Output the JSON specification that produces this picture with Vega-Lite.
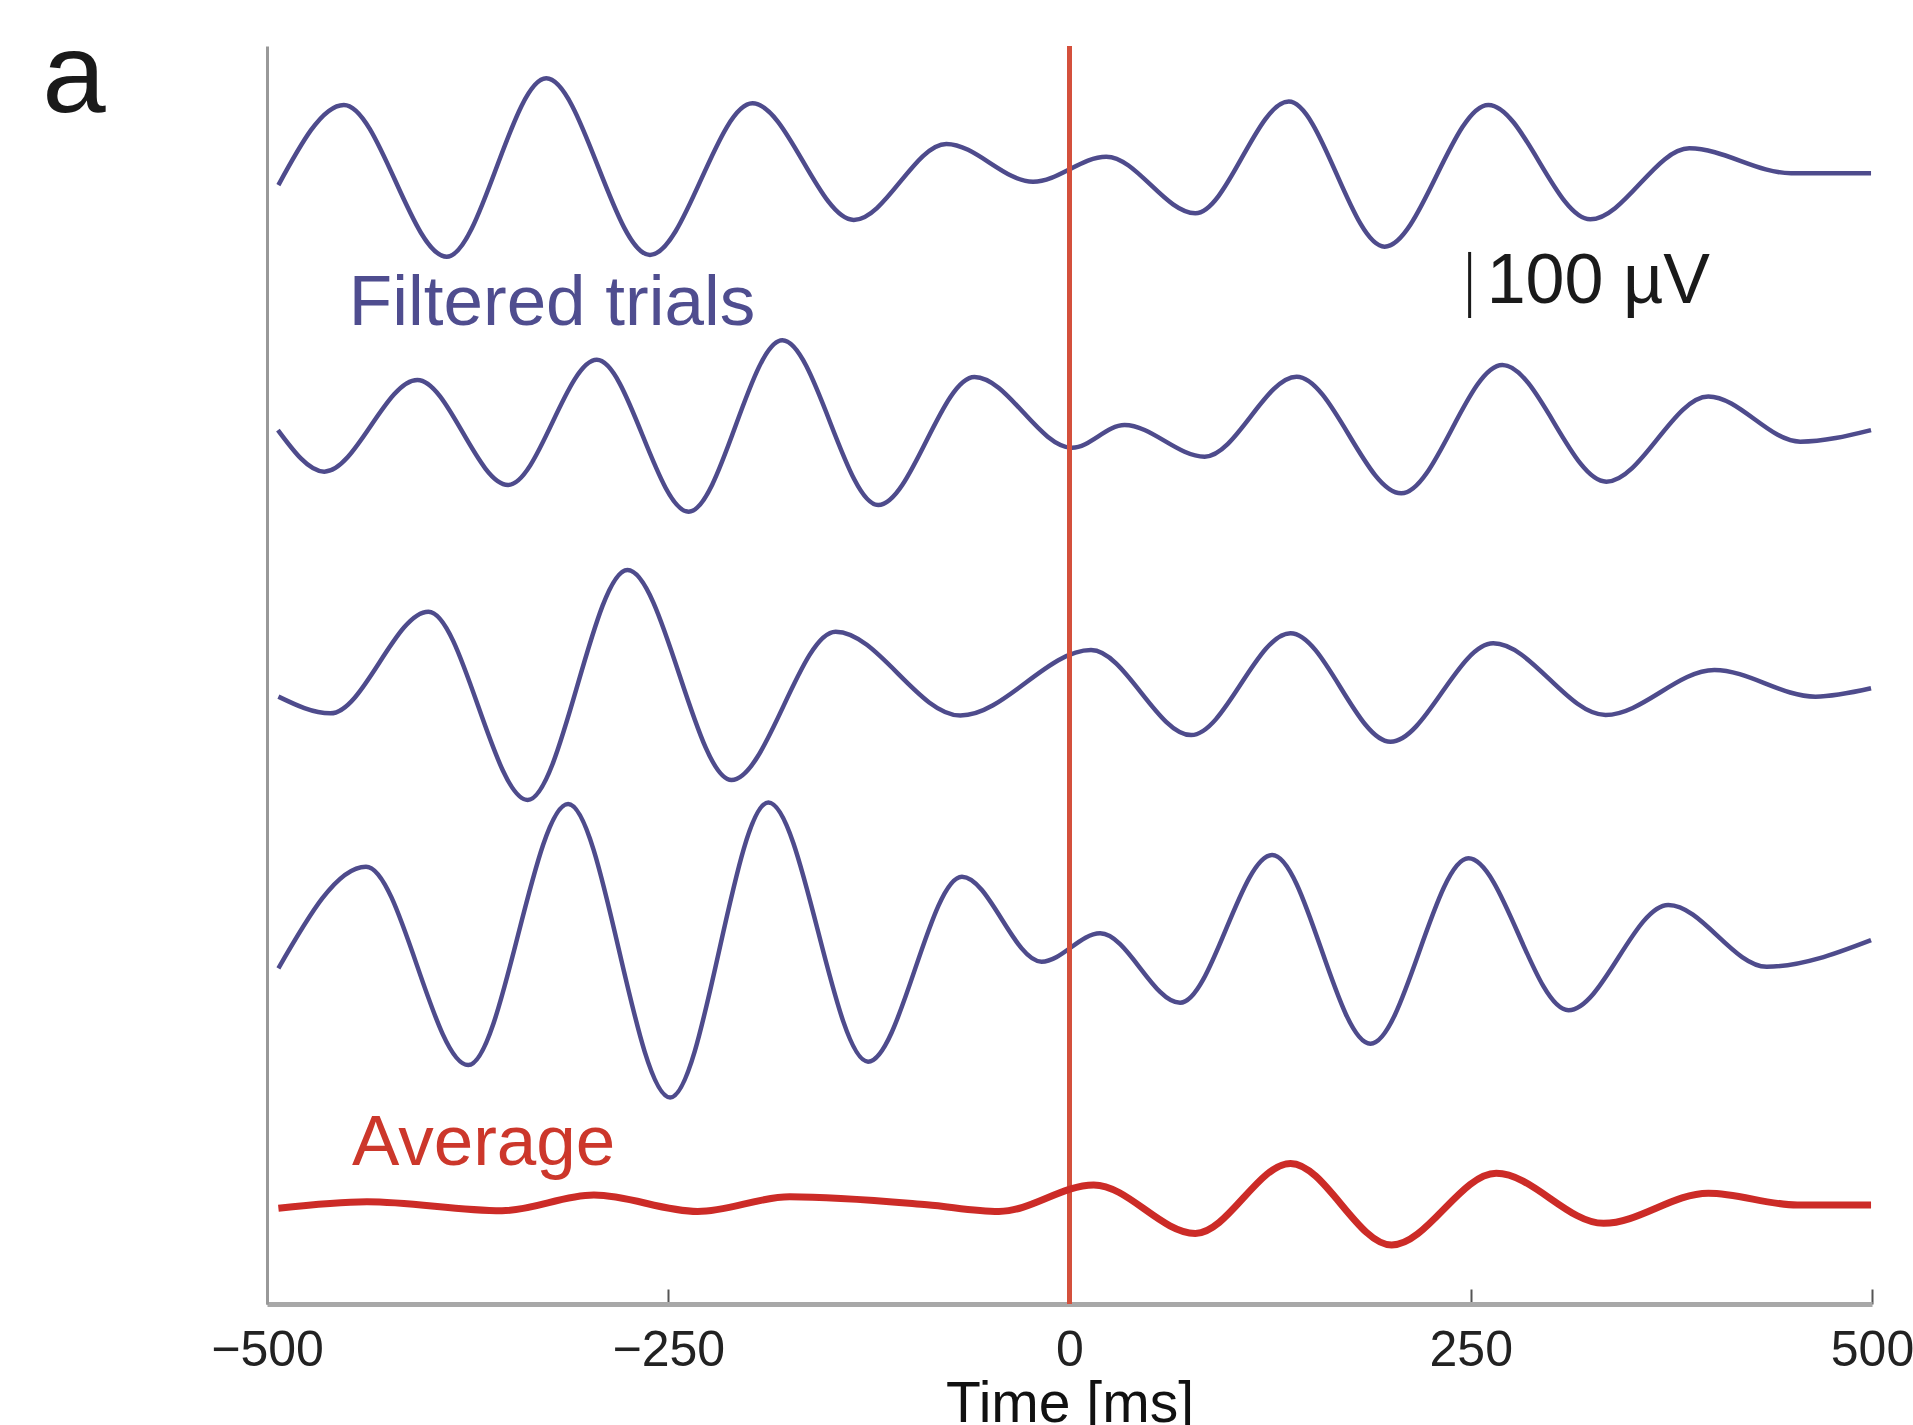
{
  "$schema": "https://vega.github.io/schema/vega-lite/v6.json",
  "width": 1605,
  "height": 1258,
  "autosize": {"type": "none"},
  "padding": {"left": 267, "top": 46, "right": 41, "bottom": 121},
  "background": "white",
  "config": {
    "view": {"stroke": null},
    "font": "Liberation Sans",
    "axisX": {
      "domainColor": "#a8a8a8", "domainWidth": 5, "domainCap": "butt",
      "tickColor": "#555555", "tickWidth": 2, "tickSize": -15,
      "labelFontSize": 50, "labelColor": "#222222", "labelFont": "Liberation Sans",
      "labelPadding": 36.5, "labelFlush": false, "labelOverlap": false,
      "grid": false,
      "titleFontSize": 57, "titleFontWeight": "normal",
      "titleColor": "#111111", "titleFont": "Liberation Sans",
      "titleBaseline": "alphabetic", "titleY": 117
    },
    "axisY": {
      "domainColor": "#999999", "domainWidth": 3, "ticks": false, "labels": false,
      "grid": false
    }
  },
  "datasets": {
    "traces": [
      {"series": "Trial 1", "t": -492.9, "v": 1748.3},
      {"series": "Trial 1", "t": -452.1, "v": 1873.6},
      {"series": "Trial 1", "t": -388.0, "v": 1636.4},
      {"series": "Trial 1", "t": -326.0, "v": 1915.1},
      {"series": "Trial 1", "t": -261.4, "v": 1639.1},
      {"series": "Trial 1", "t": -197.5, "v": 1876.0},
      {"series": "Trial 1", "t": -134.4, "v": 1693.8},
      {"series": "Trial 1", "t": -76.7, "v": 1812.6},
      {"series": "Trial 1", "t": -22.7, "v": 1753.5},
      {"series": "Trial 1", "t": 22.9, "v": 1792.7},
      {"series": "Trial 1", "t": 78.4, "v": 1704.3},
      {"series": "Trial 1", "t": 136.6, "v": 1878.7},
      {"series": "Trial 1", "t": 196.3, "v": 1652.1},
      {"series": "Trial 1", "t": 261.0, "v": 1873.6},
      {"series": "Trial 1", "t": 324.5, "v": 1694.8},
      {"series": "Trial 1", "t": 386.2, "v": 1805.7},
      {"series": "Trial 1", "t": 449.6, "v": 1766.8},
      {"series": "Trial 1", "t": 499.4, "v": 1766.8},

      {"series": "Trial 2", "t": -493.2, "v": 1365.5},
      {"series": "Trial 2", "t": -464.3, "v": 1300.5},
      {"series": "Trial 2", "t": -406.3, "v": 1443.7},
      {"series": "Trial 2", "t": -349.8, "v": 1279.8},
      {"series": "Trial 2", "t": -294.5, "v": 1475.2},
      {"series": "Trial 2", "t": -237.3, "v": 1238.0},
      {"series": "Trial 2", "t": -178.9, "v": 1505.7},
      {"series": "Trial 2", "t": -119.2, "v": 1248.3},
      {"series": "Trial 2", "t": -59.2, "v": 1448.5},
      {"series": "Trial 2", "t": 1.6, "v": 1337.9},
      {"series": "Trial 2", "t": 34.3, "v": 1373.4},
      {"series": "Trial 2", "t": 84.2, "v": 1324.0},
      {"series": "Trial 2", "t": 141.5, "v": 1448.9},
      {"series": "Trial 2", "t": 206.7, "v": 1266.6},
      {"series": "Trial 2", "t": 269.7, "v": 1467.2},
      {"series": "Trial 2", "t": 334.5, "v": 1284.9},
      {"series": "Trial 2", "t": 398.0, "v": 1418.0},
      {"series": "Trial 2", "t": 455.3, "v": 1347.4},
      {"series": "Trial 2", "t": 499.4, "v": 1365.5},

      {"series": "Trial 3", "t": -492.9, "v": 949.0},
      {"series": "Trial 3", "t": -460.5, "v": 922.9},
      {"series": "Trial 3", "t": -399.4, "v": 1081.7},
      {"series": "Trial 3", "t": -337.6, "v": 787.6},
      {"series": "Trial 3", "t": -275.4, "v": 1146.9},
      {"series": "Trial 3", "t": -210.6, "v": 818.8},
      {"series": "Trial 3", "t": -145.7, "v": 1050.4},
      {"series": "Trial 3", "t": -68.0, "v": 919.5},
      {"series": "Trial 3", "t": 13.4, "v": 1021.8},
      {"series": "Trial 3", "t": 75.8, "v": 889.0},
      {"series": "Trial 3", "t": 137.7, "v": 1048.2},
      {"series": "Trial 3", "t": 200.0, "v": 878.5},
      {"series": "Trial 3", "t": 264.0, "v": 1032.3},
      {"series": "Trial 3", "t": 334.0, "v": 920.4},
      {"series": "Trial 3", "t": 401.8, "v": 990.6},
      {"series": "Trial 3", "t": 464.8, "v": 949.0},
      {"series": "Trial 3", "t": 499.4, "v": 962.0},

      {"series": "Trial 4", "t": -492.9, "v": 524.5},
      {"series": "Trial 4", "t": -438.3, "v": 683.3},
      {"series": "Trial 4", "t": -374.6, "v": 373.3},
      {"series": "Trial 4", "t": -312.4, "v": 781.3},
      {"series": "Trial 4", "t": -248.8, "v": 322.8},
      {"series": "Trial 4", "t": -187.6, "v": 783.7},
      {"series": "Trial 4", "t": -125.5, "v": 378.7},
      {"series": "Trial 4", "t": -67.0, "v": 667.7},
      {"series": "Trial 4", "t": -17.4, "v": 534.8},
      {"series": "Trial 4", "t": 19.1, "v": 579.2},
      {"series": "Trial 4", "t": 68.9, "v": 470.6},
      {"series": "Trial 4", "t": 126.3, "v": 701.6},
      {"series": "Trial 4", "t": 187.5, "v": 406.7},
      {"series": "Trial 4", "t": 248.6, "v": 696.3},
      {"series": "Trial 4", "t": 310.9, "v": 459.1},
      {"series": "Trial 4", "t": 373.1, "v": 623.5},
      {"series": "Trial 4", "t": 434.4, "v": 527.0},
      {"series": "Trial 4", "t": 499.4, "v": 568.7},

      {"series": "Average", "t": -492.9, "v": 149.6},
      {"series": "Average", "t": -437.7, "v": 159.8},
      {"series": "Average", "t": -353.6, "v": 145.7},
      {"series": "Average", "t": -296.3, "v": 170.3},
      {"series": "Average", "t": -231.7, "v": 144.6},
      {"series": "Average", "t": -174.3, "v": 167.5},
      {"series": "Average", "t": -88.8, "v": 155.1},
      {"series": "Average", "t": -44.0, "v": 144.6},
      {"series": "Average", "t": 15.1, "v": 186.0},
      {"series": "Average", "t": 78.4, "v": 110.3},
      {"series": "Average", "t": 137.7, "v": 219.7},
      {"series": "Average", "t": 200.7, "v": 92.2},
      {"series": "Average", "t": 265.9, "v": 204.3},
      {"series": "Average", "t": 332.8, "v": 126.1},
      {"series": "Average", "t": 398.0, "v": 173.2},
      {"series": "Average", "t": 453.5, "v": 154.7},
      {"series": "Average", "t": 499.4, "v": 154.7}
    ]
  },
  "encoding": {
    "x": {
      "field": "t", "type": "quantitative",
      "scale": {"domain": [-500, 500], "nice": false, "zero": false},
      "axis": {
        "title": "Time [ms]",
        "values": [-500, -250, 0, 250, 500],
        "encode": {"labels": {"update": {"dx": {"signal": "datum.value < 0 ? -14 : 0"}}}}
      }
    }
  },
  "layer": [
    {
      "data": {"name": "traces"},
      "transform": [{"filter": "datum.series !== 'Average'"}],
      "mark": {"type": "line", "interpolate": "monotone", "color": "#4e4b8c", "strokeWidth": 4.5},
      "encoding": {
        "y": {
          "field": "v", "type": "quantitative",
          "scale": {"domain": [0, 1965.6], "nice": false, "zero": false},
          "axis": {"title": null}
        },
        "detail": {"field": "series", "type": "nominal"}
      }
    },
    {
      "data": {"values": [{"t": 0}]},
      "mark": {"type": "rule", "color": "#d4503c", "strokeWidth": 5},
      "encoding": {}
    },
    {
      "data": {"name": "traces"},
      "transform": [{"filter": "datum.series === 'Average'"}],
      "mark": {"type": "line", "interpolate": "monotone", "color": "#cc2b27", "strokeWidth": 7},
      "encoding": {
        "y": {"field": "v", "type": "quantitative", "scale": {"domain": [0, 1965.6], "nice": false, "zero": false}, "axis": {"title": null}}
      }
    },
    {
      "data": {"values": [{"t": 249.3, "v": 1540.6, "v2": 1643.8}]},
      "mark": {"type": "rule", "color": "#1a1a1a", "strokeWidth": 3},
      "encoding": {
        "y": {"field": "v", "type": "quantitative", "scale": {"domain": [0, 1965.6], "nice": false, "zero": false}, "axis": {"title": null}},
        "y2": {"field": "v2"}
      }
    },
    {
      "data": {"values": [{"t": 259.9, "v": 1564.1, "label": "100 µV"}]},
      "mark": {"type": "text", "align": "left", "baseline": "alphabetic", "fontSize": 70, "font": "Liberation Sans", "color": "#1a1a1a"},
      "encoding": {
        "y": {"field": "v", "type": "quantitative", "scale": {"domain": [0, 1965.6], "nice": false, "zero": false}, "axis": {"title": null}},
        "text": {"field": "label"}
      }
    },
    {
      "data": {"values": [{"t": -449, "v": 1529.7, "label": "Filtered trials"}]},
      "mark": {"type": "text", "align": "left", "baseline": "alphabetic", "fontSize": 71, "font": "Liberation Sans", "color": "#4f4d8f"},
      "encoding": {
        "y": {"field": "v", "type": "quantitative", "scale": {"domain": [0, 1965.6], "nice": false, "zero": false}, "axis": {"title": null}},
        "text": {"field": "label"}
      }
    },
    {
      "data": {"values": [{"t": -447, "v": 217.2, "label": "Average"}]},
      "mark": {"type": "text", "align": "left", "baseline": "alphabetic", "fontSize": 71, "font": "Liberation Sans", "color": "#cc372b"},
      "encoding": {
        "y": {"field": "v", "type": "quantitative", "scale": {"domain": [0, 1965.6], "nice": false, "zero": false}, "axis": {"title": null}},
        "text": {"field": "label"}
      }
    },
    {
      "data": {"values": [{"t": -640, "v": 1862.5, "label": "a"}]},
      "mark": {"type": "text", "align": "left", "baseline": "alphabetic", "fontSize": 114, "font": "Liberation Sans", "color": "#1a1a1a"},
      "encoding": {
        "y": {"field": "v", "type": "quantitative", "scale": {"domain": [0, 1965.6], "nice": false, "zero": false}, "axis": {"title": null}},
        "text": {"field": "label"}
      }
    }
  ]
}
